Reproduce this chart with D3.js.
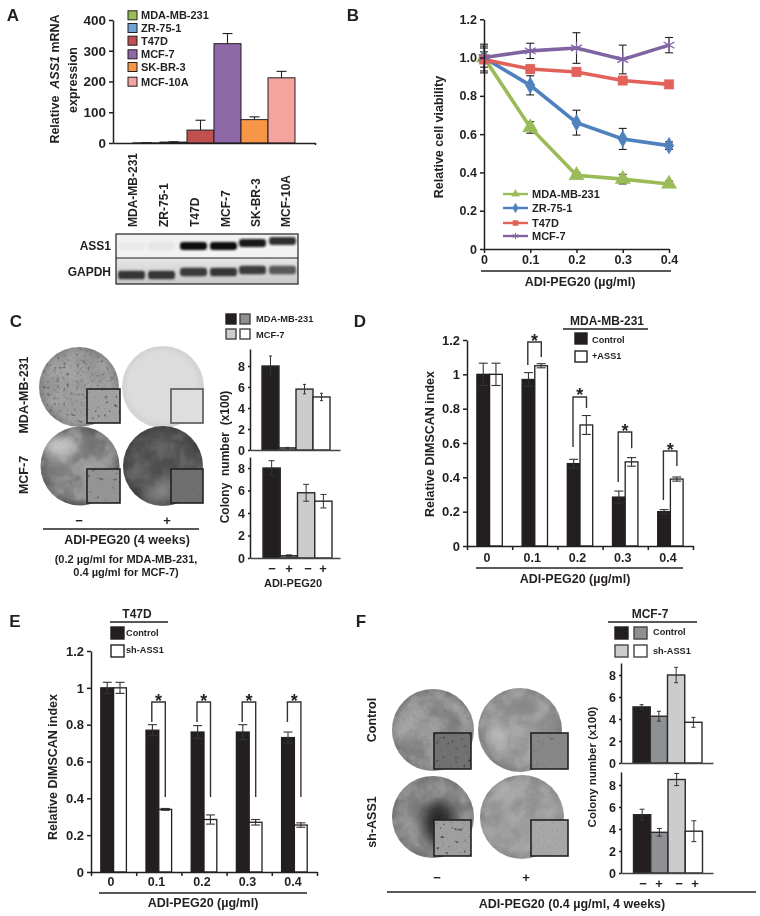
<!DOCTYPE html>
<html><head><meta charset="utf-8">
<script src="https://cdn.jsdelivr.net/npm/d3@7"></script>
<style>
html,body{margin:0;padding:0;background:#fff}
svg{display:block;filter:blur(0.3px)}
text{font-family:"Liberation Sans",Arial,sans-serif;font-weight:bold;fill:#231f20}
.tick text{font-size:13px}
</style></head><body>
<script>
// ---------- Panel A
const aCells=["MDA-MB-231","ZR-75-1","T47D","MCF-7","SK-BR-3","MCF-10A"];
const aValues=[0.5,3,42,323,76,212];
const aErrors=[0.3,1,32,33,9,21];
const aColors=["#9bbb59","#6fa3d6","#c0504d","#8f68a8","#f79646","#f4a39d"];
const aTicks=[0,100,200,300,400];
const blotAss1=[0.03,0.05,1,1,0.95,0.85];
const blotGapdh=[0.9,0.9,0.85,0.9,0.85,0.7];
const blotAss1Row=[0,0,0,0,-3,-5];
const blotGapdhRow=[0,0,-3,-3,-5,-5];
// ---------- Panel B
const bDoses=[0,0.1,0.2,0.3,0.4];
const bNames=["MDA-MB-231","ZR-75-1","T47D","MCF-7"];
const bMda=[1.0,0.635,0.385,0.365,0.34];
const bMdaErr=[0.03,0.03,0.015,0.025,0.015];
const bZr=[1.0,0.855,0.66,0.575,0.54];
const bZrErr=[0.05,0.05,0.065,0.055,0.02];
const bT47=[0.99,0.94,0.925,0.88,0.86];
const bT47Err=[0.07,0.02,0.02,0.02,0.02];
const bMcf=[1.0,1.035,1.05,0.99,1.065];
const bMcfErr=[0.07,0.04,0.08,0.075,0.04];
const bColors=["#9bbb59","#4f81bd","#e2625a","#8064a2"];
const bTicks=[0,0.2,0.4,0.6,0.8,1.0,1.2];
// ---------- Panel C
const cTop=[8,0.2,5.8,5.05];
const cTopErr=[0.95,0.05,0.45,0.35];
const cBottom=[8,0.2,5.8,5.05];
const cBottomErr=[0.65,0.08,0.75,0.6];
const colonyTicks=[0,2,4,6,8];
const signs=["−","+","−","+"];
// ---------- Panel D
const doseLabels=["0","0.1","0.2","0.3","0.4"];
const dControl=[1.0,0.97,0.48,0.285,0.2];
const dControlErr=[0.065,0.04,0.025,0.035,0.012];
const dAss1=[1.0,1.05,0.705,0.49,0.39];
const dAss1Err=[0.065,0.012,0.055,0.025,0.012];
const dBrTop=[null,1.188,0.868,0.664,0.553];
const dBrLeft=[null,1.055,0.577,0.373,0.268];
const dBrRight=[null,1.101,0.804,0.57,0.466];
// ---------- Panel E
const eControl=[1.0,0.77,0.76,0.76,0.73];
const eControlErr=[0.03,0.03,0.035,0.04,0.03];
const eSh=[1.0,0.34,0.285,0.27,0.255];
const eShErr=[0.03,0.005,0.025,0.015,0.012];
const eBrTop=[null,0.923,0.923,0.923,0.923];
const eBrLeft=[null,0.814,0.814,0.814,0.814];
const eBrRight=[null,0.407,0.407,0.407,0.407];
const indexTicks=[0,0.2,0.4,0.6,0.8,1,1.2];
// ---------- Panel F
const fTop=[5.1,4.25,8.0,3.7];
const fTopErr=[0.2,0.45,0.7,0.45];
const fBottom=[5.3,3.7,8.5,3.8];
const fBottomErr=[0.5,0.35,0.55,0.95];
const fourFills=["#231f20","#8f9093","#cbcccd","#ffffff"];

const svg=d3.select("body").append("svg").attr("width",760).attr("height",916);
const defs=svg.append("defs");
const INK="#231f20";

// ----- photo texture filters
function noiseFilter(id,freq,oct,seed,table,color){
  const f=defs.append("filter").attr("id",id).attr("x","0").attr("y","0").attr("width","100%").attr("height","100%");
  f.append("feTurbulence").attr("type","fractalNoise").attr("baseFrequency",freq).attr("numOctaves",oct).attr("seed",seed).attr("result","n");
  f.append("feColorMatrix").attr("in","n").attr("type","matrix")
    .attr("values",`0 0 0 0 ${color} 0 0 0 0 ${color} 0 0 0 0 ${color} 1 0 0 0 0`).attr("result","a");
  const t=f.append("feComponentTransfer").attr("in","a").attr("result","b");
  t.append("feFuncA").attr("type","table").attr("tableValues",table);
  f.append("feComposite").attr("in","b").attr("in2","SourceAlpha").attr("operator","in");
}
noiseFilter("cloudDark",0.035,3,3,"0 0 0.1 0.6 0.75 0.75",0.1);
noiseFilter("cloudLight",0.05,3,8,"0 0 0.05 0.5 0.65 0.65",0.95);
noiseFilter("grain",0.8,2,5,"0 0 0.15 0.35 0.4",0.15);
noiseFilter("specks",0.22,2,11,"0 0 0 0 0 0 0 0.6 1 1",0.05);
noiseFilter("specksFine",0.3,2,21,"0 0 0 0 0 0 0.3 1 1 1",0.08);
const soft=defs.append("filter").attr("id","soft").attr("x","-50%").attr("y","-100%").attr("width","200%").attr("height","300%");
soft.append("feGaussianBlur").attr("stdDeviation","1.1 0.8");
const blob=defs.append("filter").attr("id","blob").attr("x","-60%").attr("y","-60%").attr("width","220%").attr("height","220%");
blob.append("feGaussianBlur").attr("stdDeviation","7");
const blotBg=defs.append("linearGradient").attr("id","gapdhBg").attr("x1",0).attr("x2",0).attr("y1",0).attr("y2",1);
blotBg.append("stop").attr("offset","0%").attr("stop-color","#e6e6e6");
blotBg.append("stop").attr("offset","100%").attr("stop-color","#c8c8c8");

let gid=0;
function plate(o){
  const id="pg"+(gid++);
  const g=defs.append("radialGradient").attr("id",id).attr("cx","50%").attr("cy","50%").attr("r","52%").attr("fx",o.fx||"45%").attr("fy",o.fy||"45%");
  g.append("stop").attr("offset","0%").attr("stop-color",o.mid);
  g.append("stop").attr("offset","78%").attr("stop-color",o.mid);
  g.append("stop").attr("offset","94%").attr("stop-color",o.rim);
  g.append("stop").attr("offset","100%").attr("stop-color",o.edge||"#c8c8c8");
  const layer=svg.append("g");
  const c=()=>layer.append("circle").attr("cx",o.x).attr("cy",o.y).attr("r",o.r);
  c().attr("fill",`url(#${id})`);
  if(o.clouds!==false){ c().attr("filter","url(#cloudDark)").attr("opacity",o.cloud||0.5);
                        c().attr("filter","url(#cloudLight)").attr("opacity",o.cloud||0.5); }
  if(o.blob){ const cid="pc"+(gid++);
    defs.append("clipPath").attr("id",cid).append("circle").attr("cx",o.x).attr("cy",o.y).attr("r",o.r);
    layer.append("g").attr("clip-path",`url(#${cid})`).append("ellipse").attr("cx",o.blob[0]).attr("cy",o.blob[1]).attr("rx",o.blob[2]).attr("ry",o.blob[3])
      .attr("fill",o.blob[4]).attr("filter","url(#blob)");
  }
  const gr=o.grain===undefined?0.5:o.grain;
  if(gr>0) c().attr("filter","url(#grain)").attr("opacity",gr);
  if(o.specks) c().attr("filter","url(#specksFine)").attr("opacity",o.specks);
  // inset
  const [ix,iy,iw,ih]=o.inset;
  layer.append("rect").attr("x",ix).attr("y",iy).attr("width",iw).attr("height",ih).attr("fill",o.inFill);
  if(gr>0) layer.append("rect").attr("x",ix).attr("y",iy).attr("width",iw).attr("height",ih).attr("fill","#000").attr("filter","url(#grain)").attr("opacity",0.6);
  if(o.inSpecks) layer.append("rect").attr("x",ix).attr("y",iy).attr("width",iw).attr("height",ih).attr("fill","#000").attr("filter","url(#specks)").attr("opacity",o.inSpecks);
  layer.append("rect").attr("x",ix).attr("y",iy).attr("width",iw).attr("height",ih).attr("fill","none").attr("stroke",o.inStroke||"#222").attr("stroke-width",1.6);
}

// ----- text helpers
function label(x,y,s,size,anchor,rot){
  const t=svg.append("text").attr("x",x).attr("y",y).attr("font-size",size).attr("text-anchor",anchor||"middle").attr("dominant-baseline","central");
  if(rot) t.attr("transform",`rotate(${rot} ${x} ${y})`);
  t.text(s); return t;
}
function rule(x1,x2,y,w){svg.append("line").attr("x1",x1).attr("x2",x2).attr("y1",y).attr("y2",y).attr("stroke",INK).attr("stroke-width",w||1.4);}
function swatch(x,y,w,h,fill,stroke,sw){svg.append("rect").attr("x",x).attr("y",y).attr("width",w).attr("height",h).attr("fill",fill).attr("stroke",stroke||"none").attr("stroke-width",sw||1.4);}
function yAxis(scale,ticks,x,fmt,size,tsize){
  const g=svg.append("g").attr("transform",`translate(${x},0)`).call(d3.axisLeft(scale).tickValues(ticks).tickFormat(fmt).tickSize(tsize).tickSizeOuter(0));
  g.selectAll("path,line").attr("stroke",INK).attr("stroke-width",1.5);
  g.selectAll("text").style("font-size",size+"px");
  return g;
}
function errBars(vals,errs,xf,y,cap,color,w){
  const g=svg.append("g").attr("stroke",color||INK).attr("stroke-width",w||1.1).attr("fill","none");
  vals.forEach((v,i)=>{
    const x=xf(i);
    g.append("line").attr("x1",x).attr("x2",x).attr("y1",y(v-errs[i])).attr("y2",y(v+errs[i]));
    [v-errs[i],v+errs[i]].forEach(e=>g.append("line").attr("x1",x-cap).attr("x2",x+cap).attr("y1",y(e)).attr("y2",y(e)));
  });
}

// ======= Panel A
label(13,15,"A",17);
{
  const y=d3.scaleLinear().domain([0,400]).range([143,20]);
  const x=d3.scaleBand().domain(aCells).range([133,295]).padding(0);
  svg.append("g").selectAll("rect").data(aCells).join("rect")
    .attr("x",d=>x(d)).attr("width",x.bandwidth())
    .attr("y",(d,i)=>y(aValues[i])).attr("height",(d,i)=>143-y(aValues[i]))
    .attr("fill",(d,i)=>aColors[i]).attr("stroke",INK).attr("stroke-width",1);
  const g=svg.append("g").attr("stroke",INK).attr("stroke-width",1.1);
  aCells.forEach((d,i)=>{ const cx=x(d)+x.bandwidth()/2;
    g.append("line").attr("x1",cx).attr("x2",cx).attr("y1",y(aValues[i])).attr("y2",y(aValues[i]+aErrors[i]));
    g.append("line").attr("x1",cx-5).attr("x2",cx+5).attr("y1",y(aValues[i]+aErrors[i])).attr("y2",y(aValues[i]+aErrors[i]));
  });
  yAxis(y,aTicks,113,d=>d,13.5,4);
  const base=d3.scaleLinear().domain([0,1]).range([113,315]);
  const ax=svg.append("g").attr("transform","translate(0,143)").call(d3.axisBottom(base).tickValues([1]).tickFormat("").tickSize(2).tickSizeOuter(0));
  ax.selectAll("path,line").attr("stroke",INK).attr("stroke-width",1.5);
  // legend
  const ly=[15.3,28,40.7,54.3,67,81.7];
  aCells.forEach((d,i)=>{ swatch(128,ly[i]-4.5,9,9,aColors[i],INK,1); label(141,ly[i],d,11,"start"); });
  // y title
  const t=svg.append("text").attr("transform","translate(55,79) rotate(-90)").attr("text-anchor","middle").attr("dominant-baseline","central").attr("font-size",12.5).attr("xml:space","preserve");
  t.append("tspan").text("Relative  "); t.append("tspan").attr("font-style","italic").text("ASS1"); t.append("tspan").text(" mRNA");
  label(73,80,"expression",12.5,"middle",-90);
  // rotated lane labels
  const lane=[133,164,195,226,256,286];
  aCells.forEach((d,i)=>label(lane[i],227,d,12,"start",-90));
  // blot
  swatch(116,234,182,24,"#f2f2f2");
  swatch(116,258,182,26,"url(#gapdhBg)");
  const bands=svg.append("g").attr("filter","url(#soft)");
  const bandX=[118,148,180,210,239,269];
  aCells.forEach((d,i)=>{
    bands.append("rect").attr("x",bandX[i]).attr("width",27).attr("y",246+blotAss1Row[i]-4).attr("height",8).attr("rx",3)
      .attr("fill","#111").attr("opacity",blotAss1[i]);
    bands.append("rect").attr("x",bandX[i]).attr("width",27).attr("y",275+blotGapdhRow[i]-4.2).attr("height",8.4).attr("rx",3)
      .attr("fill","#222").attr("opacity",blotGapdh[i]);
  });
  svg.append("rect").attr("x",116).attr("y",234).attr("width",182).attr("height",50).attr("fill","none").attr("stroke",INK).attr("stroke-width",1.2);
  rule(116,298,258,1);
  label(111,246,"ASS1",12,"end");
  label(111,272,"GAPDH",12,"end");
}

// ======= Panel B
label(353,15,"B",17);
{
  const x=d3.scaleLinear().domain([0,0.4]).range([484,669]);
  const y=d3.scaleLinear().domain([0,1.2]).range([249,19.3]);
  const f=d=>d===0?"0":d.toFixed(1);
  const series=[[bMda,bMdaErr],[bZr,bZrErr],[bT47,bT47Err],[bMcf,bMcfErr]];
  const sym=[d3.symbolTriangle,d3.symbolDiamond,d3.symbolSquare,d3.symbolAsterisk];
  const size=[100,80,88,110];
  const line=d3.line().x((d,i)=>x(bDoses[i])).y(d=>y(d));
  series.forEach(([v,e])=>errBars(v,e,i=>x(bDoses[i]),y,4,INK,1.1));
  series.forEach(([v],k)=>{
    svg.append("path").attr("d",line(v)).attr("fill","none").attr("stroke",bColors[k]).attr("stroke-width",3.6);
    svg.append("g").selectAll("path").data(v).join("path")
      .attr("transform",(d,i)=>`translate(${x(bDoses[i])},${y(d)})`)
      .attr("d",d3.symbol().type(sym[k]).size(size[k]))
      .attr("fill",k===3?"none":bColors[k]).attr("stroke",bColors[k]).attr("stroke-width",k===3?1.3:0.5);
  });
  yAxis(y,bTicks,484,f,12.5,4);
  const ax=svg.append("g").attr("transform","translate(0,249)").call(d3.axisBottom(x).tickValues(bDoses).tickFormat(f).tickSize(4).tickSizeOuter(0));
  ax.selectAll("path,line").attr("stroke",INK).attr("stroke-width",1.5);
  ax.selectAll("text").style("font-size","12.5px").attr("y",6.5);
  rule(481,671,271,1.4);
  label(580,282,"ADI-PEG20 (µg/ml)",12.5);
  label(439,137,"Relative cell viability",12.5,"middle",-90);
  const ly=[194,208,223,236];
  bNames.forEach((n,k)=>{
    svg.append("line").attr("x1",503).attr("x2",528).attr("y1",ly[k]).attr("y2",ly[k]).attr("stroke",bColors[k]).attr("stroke-width",2.4);
    svg.append("path").attr("transform",`translate(515.5,${ly[k]})`).attr("d",d3.symbol().type(sym[k]).size(28)())
      .attr("fill",k===3?"none":bColors[k]).attr("stroke",bColors[k]).attr("stroke-width",k===3?1:0.3);
    label(532,ly[k],n,11,"start");
  });
}

// ----- four bar colony charts
function colony(vals,errs,x0,xEnd,yBase,yEight,yTop,barEdges,cap,barStroke){
  const y=d3.scaleLinear().domain([0,8]).range([yBase,yEight]);
  const x=d3.scaleBand().domain(d3.range(vals.length)).range(barEdges).padding(0);
  svg.append("g").selectAll("rect").data(vals).join("rect")
    .attr("x",(d,i)=>x(i)).attr("width",x.bandwidth()).attr("y",d=>y(d)).attr("height",d=>yBase-y(d))
    .attr("fill",(d,i)=>fourFills[i]).attr("stroke",barStroke||"#2a2a2a").attr("stroke-width",1.4);
  errBars(vals,errs,i=>x(i)+x.bandwidth()/2,y,cap,"#333",1);
  const yAll=d3.scaleLinear().domain([0,y.invert(yTop)]).range([yBase,yTop]);
  yAxis(yAll,colonyTicks,x0,d=>d,12.5,2);
  const bx=d3.scaleLinear().domain([0,1]).range([x0,xEnd]);
  const ax=svg.append("g").attr("transform",`translate(0,${yBase})`).call(d3.axisBottom(bx).tickValues([]).tickSize(0).tickSizeOuter(0));
  ax.selectAll("path").attr("stroke","#444").attr("stroke-width",1.5);
}

// ======= Panel C
label(16,321,"C",17);
plate({x:79,y:387,r:40,mid:"#a2a2a2",rim:"#8a8a8a",edge:"#b8b8b8",specks:0.6,cloud:0.2,inset:[87,389,33,34],inFill:"#a6a6a6",inSpecks:0.9});
plate({x:163,y:387,r:41,mid:"#dcdcdc",rim:"#d2d2d2",edge:"#e6e6e6",clouds:false,grain:0,inset:[171,389,32,34],inFill:"#dedede",inStroke:"#555"});
plate({x:80,y:466,r:39.5,mid:"#808080",rim:"#555",edge:"#888",fx:"55%",fy:"60%",cloud:0.5,blob:[58,446,20,10,"#d0d0d0"],inset:[87,469,33,34],inFill:"#999",inSpecks:0.7});
plate({x:163,y:466,r:40,mid:"#4a4a4a",rim:"#3c3c3c",edge:"#777",cloud:0.25,blob:[163,492,12,8,"#999"],inset:[171,469,32,34],inFill:"#6f6f6f",inSpecks:0.15});
label(24,395,"MDA-MB-231",12.5,"middle",-90);
label(24,475,"MCF-7",12.5,"middle",-90);
label(79,520,"−",13); label(167,520,"+",13);
rule(43,199,529);
label(127,540,"ADI-PEG20 (4 weeks)",12.5);
label(126,559,"(0.2 µg/ml for MDA-MB-231,",11);
label(126,572,"0.4 µg/ml for MCF-7)",11);
swatch(226,314,10,10,fourFills[0],INK);
swatch(240,314,10,10,fourFills[1],"#444");
swatch(226,329,10,10,fourFills[2],"#444");
swatch(240,329,10,10,fourFills[3],"#444");
label(256,319,"MDA-MB-231",9.3,"start");
label(256,335,"MCF-7",9.3,"start");
colony(cTop,cTopErr,250,340,450,366,349,[262,330],1.5);
colony(cBottom,cBottomErr,250,340,558,468,457,[263,332],3);
label(225,457,"Colony  number  (x100)",12,"middle",-90).attr("xml:space","preserve");
const cSign=[272,289,308,323];
signs.forEach((s,i)=>label(cSign[i],568,s,13));
label(293,583,"ADI-PEG20",11);

// ----- grouped dose panels
function doses(o){
  const edge=d3.scaleLinear().domain([0,5]).range([o.x0,o.xEnd]);
  const y=d3.scaleLinear().domain([0,1.2]).range([o.yBase,o.yTop]);
  const band=d3.scaleBand().domain(doseLabels).range([o.x0,o.xEnd]).padding(0);
  const inner=d3.scaleBand().domain([0,1]).range([-o.barW,o.barW]);
  const cx=i=>band(doseLabels[i])+band.bandwidth()/2;
  [[o.a,o.aErr,"#231f20",0],[o.b,o.bErr,"#ffffff",1]].forEach(([v,e,fill,k])=>{
    svg.append("g").selectAll("rect").data(v).join("rect")
      .attr("x",(d,i)=>cx(i)+inner(k)).attr("width",inner.bandwidth())
      .attr("y",d=>y(d)).attr("height",d=>o.yBase-y(d))
      .attr("fill",fill).attr("stroke",INK).attr("stroke-width",1.3);
    errBars(v,e,i=>cx(i)+inner(k)+inner.bandwidth()/2,y,4.5,"#333",1.1);
  });
  // brackets
  const br=svg.append("g").attr("fill","none").attr("stroke","#333").attr("stroke-width",1.4);
  o.top.forEach((t,i)=>{ if(t===null) return;
    const l=cx(i)-7, r=cx(i)+6.5;
    br.append("path").attr("d",d3.line()([[l,y(o.left[i])],[l,y(t)],[r,y(t)],[r,y(o.right[i])]]));
    label((l+r)/2,y(t)-1.5,"*",18);
  });
  yAxis(y,indexTicks,o.x0,d=>d===0||d===1?String(d):d.toFixed(1),13,4);
  const ax=svg.append("g").attr("transform",`translate(0,${o.yBase})`).call(d3.axisBottom(edge).ticks(5).tickFormat("").tickSize(4).tickSizeOuter(0));
  ax.selectAll("path,line").attr("stroke",INK).attr("stroke-width",1.5);
  const lab=d3.scalePoint().domain(doseLabels).range(o.labRange);
  doseLabels.forEach(d=>label(lab(d),o.labY,d,12.5));
}

// ======= Panel D
label(360,321,"D",17);
doses({x0:467,xEnd:693,yBase:546,yTop:340,barW:12.7,a:dControl,aErr:dControlErr,b:dAss1,bErr:dAss1Err,top:dBrTop,left:dBrLeft,right:dBrRight,labRange:[487,668],labY:558});
rule(476,683,568);
label(575,579,"ADI-PEG20 (µg/ml)",12.5);
label(430,444,"Relative DIMSCAN index",12.5,"middle",-90);
label(607,321,"MDA-MB-231",12);
rule(563,648,329);
swatch(575,333,12,11,fourFills[0],INK);
swatch(575,351,12,11,"#fff",INK);
label(592,340,"Control",9.2,"start");
label(592,356,"+ASS1",9.2,"start");

// ======= Panel E
label(15,621,"E",17);
doses({x0:91,xEnd:317,yBase:872,yTop:651,barW:12.8,a:eControl,aErr:eControlErr,b:eSh,bErr:eShErr,top:eBrTop,left:eBrLeft,right:eBrRight,labRange:[111,293],labY:882});
rule(99,307,893);
label(203,903,"ADI-PEG20 (µg/ml)",12.5);
label(53,767,"Relative DIMSCAN index",12.5,"middle",-90);
label(137,614,"T47D",12);
rule(110,168,622);
swatch(111,627,13,12,fourFills[0],INK);
swatch(111,645,13,12,"#fff",INK);
label(126,632.5,"Control",9.2,"start");
label(126,650,"sh-ASS1",9.2,"start");

// ======= Panel F
label(361,621,"F",17);
plate({x:433,y:730,r:41,mid:"#8c8c8c",rim:"#777",edge:"#aaa",cloud:0.4,specks:0.15,blob:[410,722,10,14,"#b5b5b5"],inset:[434,733,37,36],inFill:"#727272",inSpecks:1});
plate({x:520,y:730,r:42,mid:"#9b9b9b",rim:"#888",edge:"#bbb",cloud:0.35,blob:[497,735,5,14,"#e6e6e6"],inset:[531,733,37,36],inFill:"#8a8a8a",inSpecks:0.35});
plate({x:433,y:817,r:41,mid:"#8e8e8e",rim:"#777",edge:"#aaa",cloud:0.4,blob:[438,822,16,22,"#222"],inset:[434,820,37,36],inFill:"#a4a4a4",inSpecks:1});
plate({x:522,y:817,r:42,mid:"#a2a2a2",rim:"#929292",edge:"#bbb",cloud:0.3,inset:[531,820,37,36],inFill:"#adadad",inSpecks:0.12});
label(372,720,"Control",12.5,"middle",-90);
label(372,822,"sh-ASS1",12.5,"middle",-90);
label(437,877,"−",13); label(526,877,"+",13);
rule(387,756,892);
label(572,904,"ADI-PEG20 (0.4 µg/ml, 4 weeks)",12.5);
label(650,614,"MCF-7",12);
rule(608,697,622);
swatch(615,627,13,12,fourFills[0],INK);
swatch(634,627,13,12,fourFills[1],"#444");
swatch(615,645,13,12,fourFills[2],"#444");
swatch(634,645,13,12,"#fff","#444");
label(653,632,"Control",9.2,"start");
label(653,651,"sh-ASS1",9.2,"start");
colony(fTop,fTopErr,621,713,763,675,663,[633,702],2);
colony(fBottom,fBottomErr,621,713,873,785,772,[633.5,702.5],2.5);
label(592,767,"Colony number (x100)",11.5,"middle",-90);
const fSign=[643,659,679,695];
signs.forEach((s,i)=>label(fSign[i],883,s,13));
</script>
</body></html>
